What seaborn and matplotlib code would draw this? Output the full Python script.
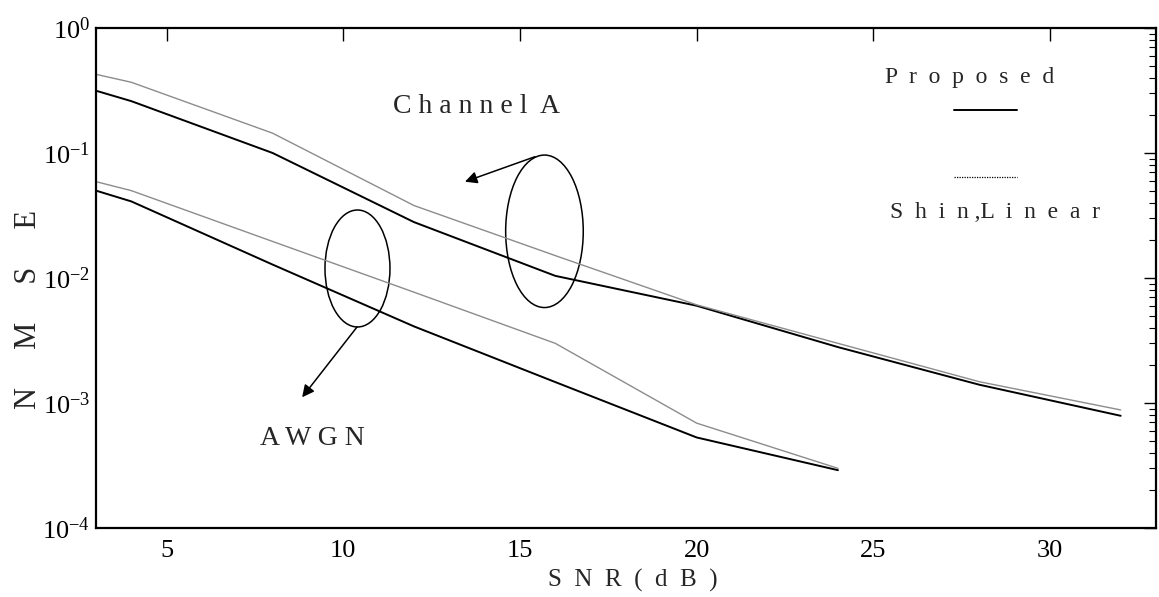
import numpy as np
import pandas as pd
import seaborn as sns
import matplotlib.pyplot as plt
from matplotlib.patches import Ellipse

# values
snr_chan = [3, 4, 8, 12, 16, 20, 24, 28, 32]
chan_a_proposed = [0.315, 0.26, 0.10, 0.028, 0.0104, 0.0060, 0.0028, 0.0014, 0.00079]
chan_a_shin = [0.426, 0.368, 0.144, 0.038, 0.0151, 0.0061, 0.0030, 0.00148, 0.00088]

snr_awgn = [3, 4, 8, 12, 16, 20, 24]
awgn_proposed = [0.050, 0.041, 0.0128, 0.0041, 0.00147, 0.00053, 0.00029]
awgn_shin = [0.059, 0.050, 0.0196, 0.0077, 0.0030, 0.00069, 0.00030]

x_ticks = [5, 10, 15, 20, 25, 30]

frames = []
for name, snr, prop, shin in [("Channel A", snr_chan, chan_a_proposed, chan_a_shin),
                              ("AWGN", snr_awgn, awgn_proposed, awgn_shin)]:
    frames.append(pd.DataFrame({"snr": snr, "nmse": prop, "channel": name, "method": "Proposed"}))
    frames.append(pd.DataFrame({"snr": snr, "nmse": shin, "channel": name, "method": "Shin,Linear"}))
df = pd.concat(frames, ignore_index=True)

sns.set_theme(style="white")
plt.rcParams["font.family"] = ["Liberation Serif", "DejaVu Serif"]
plt.rcParams["mathtext.fontset"] = "custom"
plt.rcParams["mathtext.rm"] = "Liberation Serif"


def spaced(s, gap=" "):
    return gap.join(s)


fig = plt.figure(figsize=(11.59, 5.97), dpi=100)
ax = fig.add_axes([0.0828, 0.1156, 0.9146, 0.8375])

styles = {"Proposed": ("black", 1.4), "Shin,Linear": ("0.55", 1.0)}
for (ch, method), g in df.groupby(["channel", "method"]):
    color, lw = styles[method]
    sns.lineplot(data=g, x="snr", y="nmse", color=color, linewidth=lw, ax=ax, legend=False)

ax.set_yscale("log")
ax.set_xlim(3, 33)
ax.set_ylim(1e-4, 1)
ax.set_xticks(x_ticks)
ax.set_xlabel("")
ax.set_ylabel("")
ax.tick_params(which="both", direction="in", top=True, right=True, colors="black",
               labelsize=19)
ax.tick_params(which="major", length=9, width=1)
ax.tick_params(which="minor", length=5, width=0.8)
ax.tick_params(axis="x", pad=9)
ax.tick_params(axis="y", pad=4)
for sp in ax.spines.values():
    sp.set_color("black")
    sp.set_linewidth(1.6)

# annotations
ax.add_patch(Ellipse((0.2467, 0.519), 0.0613, 0.234, transform=ax.transAxes,
                     fill=False, color="black", lw=1.1))
ax.add_patch(Ellipse((0.4231, 0.5934), 0.0732, 0.305, transform=ax.transAxes,
                     fill=False, color="black", lw=1.1))
arrow = dict(arrowstyle="-|>", color="black", lw=1.1, mutation_scale=18, shrinkA=0, shrinkB=0)
ax.annotate("", xy=(0.1945, 0.2614), xytext=(0.2465, 0.4026), xycoords="axes fraction",
            arrowprops=arrow)
ax.annotate("", xy=(0.3481, 0.6926), xytext=(0.4142, 0.7426), xycoords="axes fraction",
            arrowprops=arrow)
ax.text(0.3594, 0.83, spaced("Channel") + "  A", transform=ax.transAxes,
        ha="center", va="baseline", fontsize=20)
ax.text(0.2038, 0.166, spaced("AWGN"), transform=ax.transAxes,
        ha="center", va="baseline", fontsize=20)

# legend drawn by hand, text above / below the sample lines
ax.text(0.8245, 0.8906, spaced("Proposed", "  "), transform=ax.transAxes,
        ha="center", va="baseline", fontsize=17)
ax.plot([0.8094, 0.8689], [0.836, 0.836], transform=ax.transAxes, color="black", lw=1.4)
ax.plot([0.8094, 0.8689], [0.7026, 0.7026], transform=ax.transAxes, color="black",
        lw=0.9, linestyle=(0, (1, 1)))
ax.text(0.848, 0.62, spaced("Shin", "  ") + " ,L  " + spaced("inear", "  "),
        transform=ax.transAxes, ha="center", va="baseline", fontsize=17)

fig.text(0.025, 0.4824, spaced("NMSE", "     "), rotation=90, ha="center", va="center",
         fontsize=22)
fig.text(0.546, 0.0285, spaced("SNR(dB)", "  "), ha="center", va="center", fontsize=18)

fig.savefig("out.png", dpi=100)
